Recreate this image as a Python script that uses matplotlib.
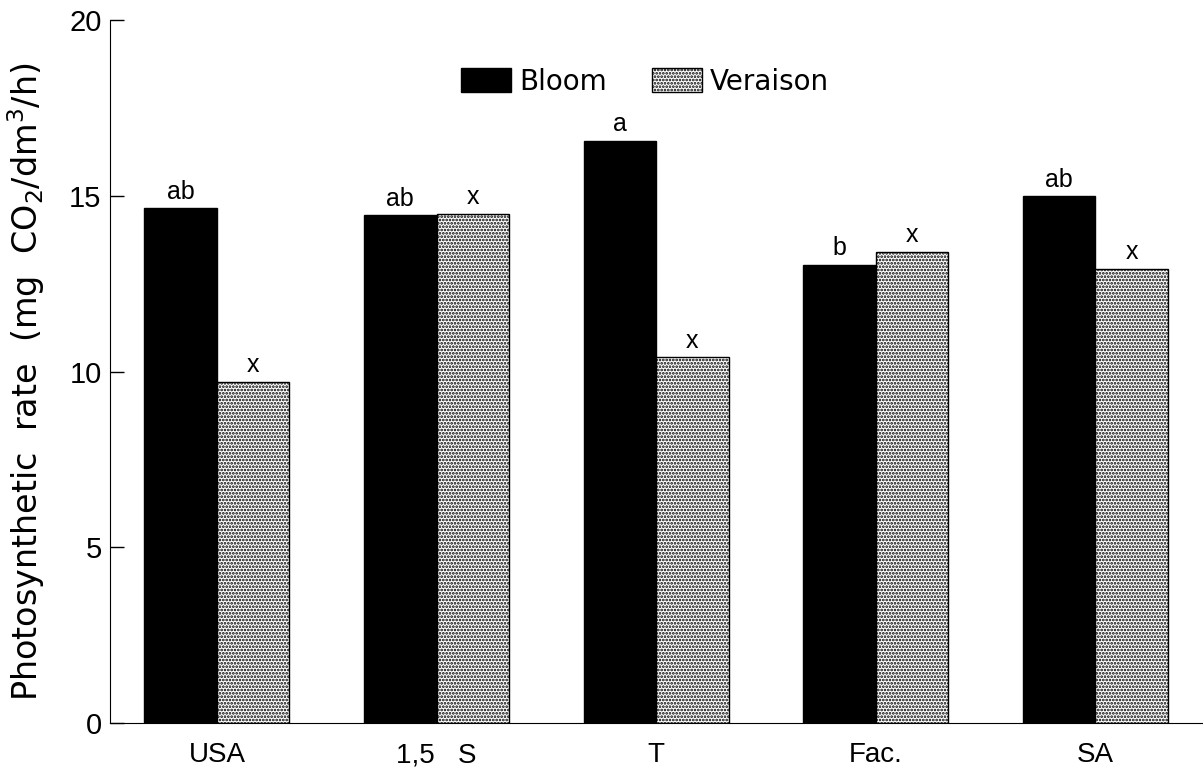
import matplotlib
matplotlib.use("Agg")
import matplotlib.pyplot as plt
import numpy as np

categories = ["USA", "1,5   S", "T", "Fac.", "SA"]
bloom = [14.65, 14.45, 16.56, 13.03, 14.99]
veraison = [9.70, 14.48, 10.41, 13.40, 12.92]
bloom_letters = ["ab", "ab", "a", "b", "ab"]
veraison_letters = ["x", "x", "x", "x", "x"]
yticks = [0, 5, 10, 15, 20]

plt.rcParams['font.family'] = ['Liberation Sans', 'DejaVu Sans']
plt.rcParams['hatch.linewidth'] = 1.3
plt.rcParams['hatch.color'] = 'black'

fig = plt.figure(figsize=(12.03, 7.71), dpi=100)
ax = fig.add_axes([0.0914, 0.0623, 0.9086, 0.9117])

x = np.arange(len(categories))
w = 0.33
ax.bar(x - w/2, bloom, w, color='black', edgecolor='black', linewidth=1, label='Bloom')
ax.bar(x + w/2, veraison, w, facecolor='white', edgecolor='black', linewidth=1,
       hatch='.....', label='Veraison')

for xi, v, t in zip(x, bloom, bloom_letters):
    ax.text(xi - w/2, v + 0.13, t, ha='center', va='bottom', fontsize=18)
for xi, v, t in zip(x, veraison, veraison_letters):
    ax.text(xi + w/2, v + 0.13, t, ha='center', va='bottom', fontsize=18)

ax.set_xlim(-0.487, 4.49)
ax.set_ylim(0, 20)
ax.set_yticks(yticks)
ax.set_yticklabels([str(t) for t in yticks], fontsize=21)
ax.set_xticks(x)
ax.set_xticklabels(categories, fontsize=20)
ax.tick_params(axis='x', length=0, pad=14)
ax.tick_params(axis='y', length=10, width=1, direction='in', pad=6)
ax.spines['top'].set_visible(False)
ax.spines['right'].set_visible(False)
ax.set_ylabel('Photosynthetic  rate  (mg  CO$_2$/dm$^3$/h)', fontsize=24,
              family=['DejaVu Sans'])
ax.yaxis.set_label_coords(-0.058, 0.485)

ax.legend(loc='center', bbox_to_anchor=(0.4895, 0.912), ncol=2, frameon=False,
          prop={'family': 'DejaVu Sans', 'size': 20},
          handlelength=1.8, handleheight=0.95, columnspacing=1.6,
          handletextpad=0.3)

fig.savefig('out.png', dpi=100)
